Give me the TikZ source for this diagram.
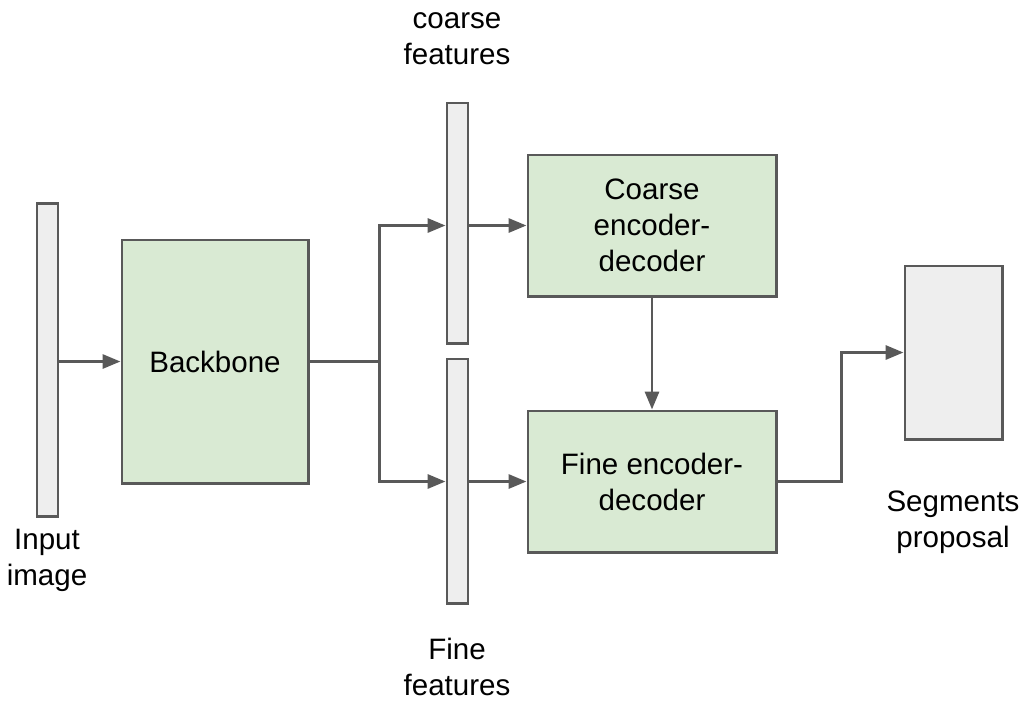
\documentclass[tikz,border=0pt]{standalone}
\usepackage{fontspec}
\setmainfont{Liberation Sans}
\usepackage{xcolor}
\usetikzlibrary{arrows.meta}

\definecolor{edgegray}{HTML}{595959}
\definecolor{barfill}{HTML}{EEEEEE}
\definecolor{boxgreen}{HTML}{D9EAD3}

\begin{document}
\begin{tikzpicture}[x=0.025cm, y=-0.025cm,
    every node/.style={font=\fontsize{21}{25.5}\selectfont, align=center},
    bar/.style={draw=edgegray, line width=2.1pt, fill=barfill, inner sep=0pt},
    block/.style={draw=edgegray, line width=2.1pt, fill=boxgreen, inner sep=0pt},
    arr/.style={draw=edgegray, line width=2.1pt, -{Triangle[length=12.8pt, width=10pt]}},
    wire/.style={draw=edgegray, line width=2.1pt}]
    \useasboundingbox (0,0) rectangle (1023,700);

    % Feature bars and output
    \node[bar, minimum width=0.525cm, minimum height=7.8cm] (inbar) at (47.5,360) {};
    \node[bar, minimum width=0.525cm, minimum height=6cm] (cbar) at (457.5,223) {};
    \node[bar, minimum width=0.525cm, minimum height=6.1cm] (fbar) at (457.5,481) {};
    \node[bar, minimum width=2.425cm, minimum height=4.325cm] (seg) at (953.5,352.5) {};

    % Processing blocks
    \node[block, minimum width=4.65cm, minimum height=6.075cm] (backbone) at (215,361.5) {Backbone};
    \node[block, minimum width=6.2cm, minimum height=3.525cm] (cbox) at (652,225.5) {Coarse\\encoder-\\decoder};
    \node[block, minimum width=6.2cm, minimum height=3.525cm] (fbox) at (652,481.5) {Fine encoder-\\decoder};

    % Labels
    \node (inlabel) at (47,560) {Input\\image};
    \node (clabel) at (457,39) {coarse\\features};
    \node (flabel) at (457,667) {Fine\\features};
    \node (seglabel) at (953,522) {Segments\\proposal};

    % Connectors
    \draw[wire] (backbone.east) -- ++(70,0) coordinate (split);
    \draw[arr] (inbar.east |- backbone) -- (backbone.west);
    \draw[arr] (split) |- (cbar.west |- cbox);
    \draw[arr] (split) |- (fbar.west |- fbox);
    \draw[arr] (cbar.east |- cbox) -- (cbox.west);
    \draw[arr] (fbar.east |- fbox) -- (fbox.west);
    \draw[arr] (cbox.south) -- (fbox.north);
    \draw[arr] (fbox.east) -- ++(64,0) |- (seg.west);
\end{tikzpicture}
\end{document}
